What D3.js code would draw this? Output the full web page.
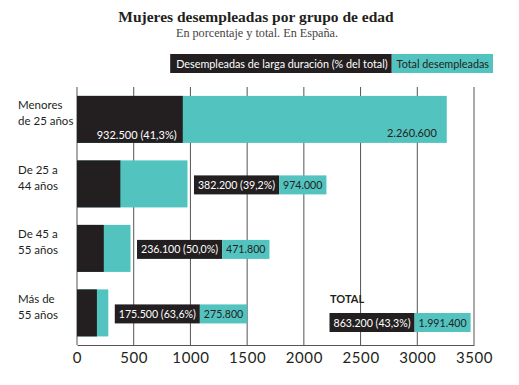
<!DOCTYPE html>
<html>
<head>
<meta charset="utf-8">
<script src="https://cdn.jsdelivr.net/npm/d3@7"></script>
<style>
  body { margin: 0; background: #fff; }
  svg { display: block; }
  .sans { font-family: Lato, "Open Sans", sans-serif; }
</style>
</head>
<body>
<svg id="chart" width="519" height="385"></svg>
<script>
// data (thousands of women)
var groups = [["Menores", "de 25 años"], ["De 25 a", "44 años"], ["De 45 a", "55 años"], ["Más de", "55 años"]];
var longTerm = [932.5, 382.2, 236.1, 175.5];
var totals = [2260.6, 974.0, 471.8, 275.8];
// the first bar is drawn longer than its label in the original
var barEnds = [3260, 974.0, 471.8, 275.8];
var totalLong = 863.2;
var totalAll = 1991.4;
var ticks = [0, 500, 1000, 1500, 2000, 2500, 3000, 3500];
var legendLabels = ["Desempleadas de larga duración (% del total)", "Total desempleadas"];

var dark = "#231f20", teal = "#52c3bf";

var es = d3.formatLocale({decimal: ",", thousands: ".", grouping: [3], currency: ["", "€"]});
var fmtNum = function(v) { return es.format(",")(Math.round(v * 1000)); };
var fmtPct = es.format(".1f");

var svg = d3.select("#chart");

var x = d3.scaleLinear().domain([0, 3500]).range([77, 474]);
var y = d3.scaleBand().domain(d3.range(groups.length)).range([87.3, 345])
    .paddingInner(0.271).paddingOuter(0.133);

// title
svg.append("text").attr("x", 256).attr("y", 22).attr("text-anchor", "middle")
  .style("font-family", "'Liberation Serif', serif").style("font-weight", "bold")
  .style("font-size", "15.5px").attr("fill", dark)
  .text("Mujeres desempleadas por grupo de edad");
svg.append("text").attr("x", 257).attr("y", 37).attr("text-anchor", "middle")
  .style("font-family", "'Liberation Serif', serif")
  .style("font-size", "12.2px").attr("fill", "#444")
  .text("En porcentaje  y total. En España.");

// legend
var lg = svg.append("g").attr("class", "sans");
var lt2 = lg.append("text").attr("x", 489).attr("y", 67.5).attr("text-anchor", "end")
  .style("font-size", "10.8px").attr("fill", dark).text(legendLabels[1]);
var w2 = lt2.node().getComputedTextLength();
var lt1 = lg.append("text").attr("x", 489 - w2 - 9).attr("y", 67.5).attr("text-anchor", "end")
  .style("font-size", "10.8px").attr("fill", "#fff").text(legendLabels[0]);
var w1 = lt1.node().getComputedTextLength();
lg.insert("rect", "text").attr("x", 489 - w2 - 5).attr("y", 54).attr("width", w2 + 9).attr("height", 19).attr("fill", teal);
lg.insert("rect", "text").attr("x", 489 - w2 - 15 - w1).attr("y", 54).attr("width", w1 + 10).attr("height", 19).attr("fill", dark);

// grid
svg.append("g").selectAll("line").data(ticks).enter().append("line")
  .attr("x1", function(d) { return x(d); }).attr("x2", function(d) { return x(d); })
  .attr("y1", 87).attr("y2", 345)
  .attr("stroke", "#555").attr("stroke-width", 1);

// axis
var axis = svg.append("g").attr("transform", "translate(0,345)")
  .call(d3.axisBottom(x).tickValues(ticks).tickSize(0).tickPadding(7).tickFormat(d3.format("d")));
axis.select(".domain").attr("stroke", "#555").attr("stroke-width", 1.2);
axis.selectAll("text").attr("class", "sans").style("font-size", "15px").attr("fill", dark)
  .style("letter-spacing", "0.6px");

// bars
var rows = svg.append("g").selectAll("g").data(groups).enter().append("g");
rows.append("rect")
  .attr("x", x(0)).attr("y", function(d, i) { return y(i); })
  .attr("width", function(d, i) { return x(barEnds[i]) - x(0); })
  .attr("height", y.bandwidth()).attr("fill", teal);
rows.append("rect")
  .attr("x", x(0)).attr("y", function(d, i) { return y(i); })
  .attr("width", function(d, i) { return x(longTerm[i]) - x(0); })
  .attr("height", y.bandwidth()).attr("fill", dark);

// category labels
rows.append("text").attr("class", "sans").attr("fill", dark).style("font-size", "11.5px")
  .attr("x", 18).attr("y", function(d, i) { return y(i) + y.bandwidth() / 2 - 10; })
  .selectAll("tspan").data(function(d) { return d; }).enter().append("tspan")
  .attr("x", 18).attr("dy", function(d, j) { return j ? 16 : 0; })
  .text(function(d) { return d; });

// label boxes
function labelBox(g, x0, yc, a, b) {
  var t1 = g.append("text").attr("class", "sans").attr("x", x0 + 4).attr("y", yc + 4)
    .style("font-size", "10.6px").attr("fill", "#fff").text(a);
  var wa = t1.node().getComputedTextLength();
  var t2 = g.append("text").attr("class", "sans").attr("x", x0 + wa + 12).attr("y", yc + 4)
    .style("font-size", "10.6px").attr("fill", dark).text(b);
  var wb = t2.node().getComputedTextLength();
  g.insert("rect", "text").attr("x", x0).attr("y", yc - 9.5).attr("width", wa + 8).attr("height", 19).attr("fill", dark);
  g.insert("rect", "text").attr("x", x0 + wa + 8).attr("y", yc - 9.5).attr("width", wb + 8).attr("height", 19).attr("fill", teal);
}

rows.each(function(d, i) {
  var g = d3.select(this);
  var a = fmtNum(longTerm[i]) + " (" + fmtPct(longTerm[i] / totals[i] * 100) + "%)";
  var b = fmtNum(totals[i]);
  if (i === 0) {
    g.append("text").attr("class", "sans").attr("text-anchor", "end")
      .attr("x", x(longTerm[i]) - 6).attr("y", y(i) + y.bandwidth() - 4)
      .style("font-size", "11px").attr("fill", "#fff").text(a);
    g.append("text").attr("class", "sans").attr("text-anchor", "end")
      .attr("x", x(barEnds[i]) - 10).attr("y", y(i) + y.bandwidth() - 6)
      .style("font-size", "11px").attr("fill", dark).text(b);
  } else {
    labelBox(g, x(barEnds[i]) + 6.5, y(i) + y.bandwidth() / 2 + 1, a, b);
  }
});

// total
var tg = svg.append("g");
tg.append("text").attr("class", "sans").attr("x", 330).attr("y", 303)
  .style("font-size", "11px").style("font-weight", "bold").attr("fill", dark).text("TOTAL");
labelBox(tg, 329.5, 322.5,
  fmtNum(totalLong) + " (" + fmtPct(totalLong / totalAll * 100) + "%)", fmtNum(totalAll));
</script>
</body>
</html>
